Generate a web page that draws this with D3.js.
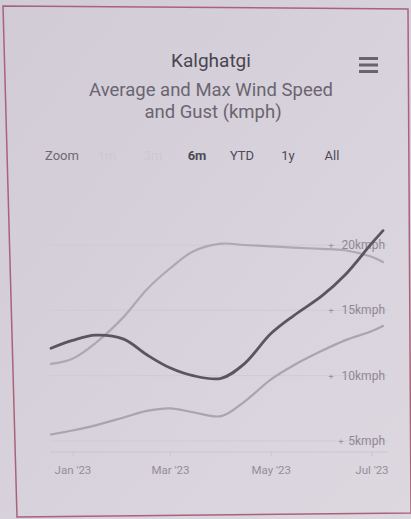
<!DOCTYPE html>
<html lang="en">
<head>
    <meta charset="UTF-8">
    <title>Kalghatgi wind</title>
    <script src="https://cdn.jsdelivr.net/npm/d3@7"></script>
    <style>
        body{margin:0;background:#d5cfd9;}
        svg{display:block;font-family:Roboto,"Noto Sans",sans-serif;}
        .line{fill:none;stroke-linecap:round;}
    </style>
</head>
<body>
<svg id="container" width="411" height="519"></svg>
<script>
    // data (kmph)
    const dates = ["2022-12-19","2023-01-01","2023-01-15","2023-02-01","2023-02-15","2023-03-01","2023-03-15",
                   "2023-04-01","2023-04-15","2023-05-01","2023-05-15","2023-06-01","2023-06-15","2023-07-01","2023-07-08"]
    const maxSpeed = [12.1,12.7,13.1,12.8,11.6,10.6,10.0,9.8,10.9,13.2,14.6,16.1,17.7,20.1,21.1]
    const gust     = [10.9,11.3,12.5,14.5,16.6,18.2,19.5,20.1,20.0,19.9,19.8,19.7,19.6,19.1,18.7]
    const avgSpeed = [5.5,5.8,6.2,6.8,7.3,7.5,7.2,6.9,8.0,9.7,10.8,11.9,12.7,13.4,13.8]
    const yTicks = [5,10,15,20]
    const xTicks = ["2023-01-01","2023-03-01","2023-05-01","2023-07-01"]
    const buttons = ["1m","3m","6m","YTD","1y","All"]

    const parse = d3.timeParse("%Y-%m-%d")
    const svg = d3.select("#container")

    // background + card border (photo is slightly skewed)
    const grad = svg.append("defs").append("linearGradient").attr("id","bg").attr("x1",0).attr("y1",0).attr("x2",1).attr("y2",1)
    grad.append("stop").attr("offset","0").attr("stop-color","#d1cbd6")
    grad.append("stop").attr("offset","1").attr("stop-color","#ddd8e0")
    svg.append("rect").attr("width",411).attr("height",519).attr("fill","url(#bg)")
    svg.append("path").attr("d","M3,6 L408,9 L411,513 L17,517 Z")
        .attr("fill","none").attr("stroke","#a8637a").attr("stroke-width",1.5)

    // titles
    svg.append("text").attr("x",211).attr("y",67).attr("text-anchor","middle")
        .attr("font-size",19).attr("fill","#4a4550").text("Kalghatgi")
    const sub = svg.append("text").attr("text-anchor","middle").attr("font-size",18.5).attr("fill","#6a6570")
    sub.append("tspan").attr("x",211).attr("y",96).text("Average and Max Wind Speed")
    sub.append("tspan").attr("x",213).attr("y",118).text("and Gust (kmph)")

    // menu icon
    svg.append("g").selectAll("rect").data([0,1,2]).join("rect")
        .attr("x",359).attr("y",d=>57+d*6.5).attr("width",19).attr("height",3).attr("fill","#69646d")

    // range selector
    svg.append("text").attr("x",45).attr("y",160).attr("font-size",13).attr("fill","#6e6973").text("Zoom")
    const bx = [107,153,197,242,288,332]
    svg.append("g").selectAll("text").data(buttons).join("text")
        .attr("x",(d,i)=>bx[i]).attr("y",160).attr("text-anchor","middle").attr("font-size",13)
        .attr("font-weight",d=>d=="6m"?"bold":"normal")
        .attr("fill",d=>(d=="1m"||d=="3m")?"#cdc8d1":"#4f4a55")
        .text(d=>d)

    // scales
    const xScale = d3.scaleTime().domain(d3.extent(dates,parse)).range([51,383])
    const yScale = d3.scaleLinear().domain([5,20]).range([441,245])

    const body = svg.append("g")

    // grid + y labels (inside, right side)
    body.append("g").selectAll("line").data(yTicks).join("line")
        .attr("x1",50).attr("x2",388).attr("y1",d=>yScale(d)).attr("y2",d=>yScale(d))
        .attr("stroke","#d0cad4").attr("stroke-width",1)
    const yl = body.append("g").selectAll("g").data(yTicks).join("g")
        .attr("transform",d=>"translate(385,"+yScale(d)+")")
    yl.append("text").attr("text-anchor","end").attr("y",4).attr("font-size",12)
        .attr("fill","#8e8993").text(d=>d+"kmph")
    yl.append("text").attr("x",d=>d==5?-44:-54).attr("y",4).attr("text-anchor","middle").attr("font-size",9)
        .attr("fill","#9a95a0").text("+")

    // x axis
    const xAxis = d3.axisBottom(xScale).tickValues(xTicks.map(parse)).tickFormat(d3.timeFormat("%b '%y")).tickSize(4)
    const xg = body.append("g").attr("transform","translate(0,452)").call(xAxis)
    xg.select(".domain").attr("stroke","#cbc5cf").attr("d","M50,0H388")
    xg.selectAll(".tick line").attr("stroke","#cbc5cf")
    xg.selectAll(".tick text").attr("font-size",11.5).attr("fill","#938e98").attr("y",14)
        .attr("font-family","Roboto,sans-serif")

    // lines
    const line = vals => d3.line().curve(d3.curveCatmullRom.alpha(0.5))
        .x((d,i)=>xScale(parse(dates[i]))).y(d=>yScale(d))(vals)
    body.append("path").attr("class","line").attr("d",line(avgSpeed)).attr("stroke","#aaa3b0").attr("stroke-width",2.2)
    body.append("path").attr("class","line").attr("d",line(gust)).attr("stroke","#aea7b4").attr("stroke-width",2.2)
    body.append("path").attr("class","line").attr("d",line(maxSpeed)).attr("stroke","#5b5560").attr("stroke-width",2.8)
</script>
</body>
</html>
